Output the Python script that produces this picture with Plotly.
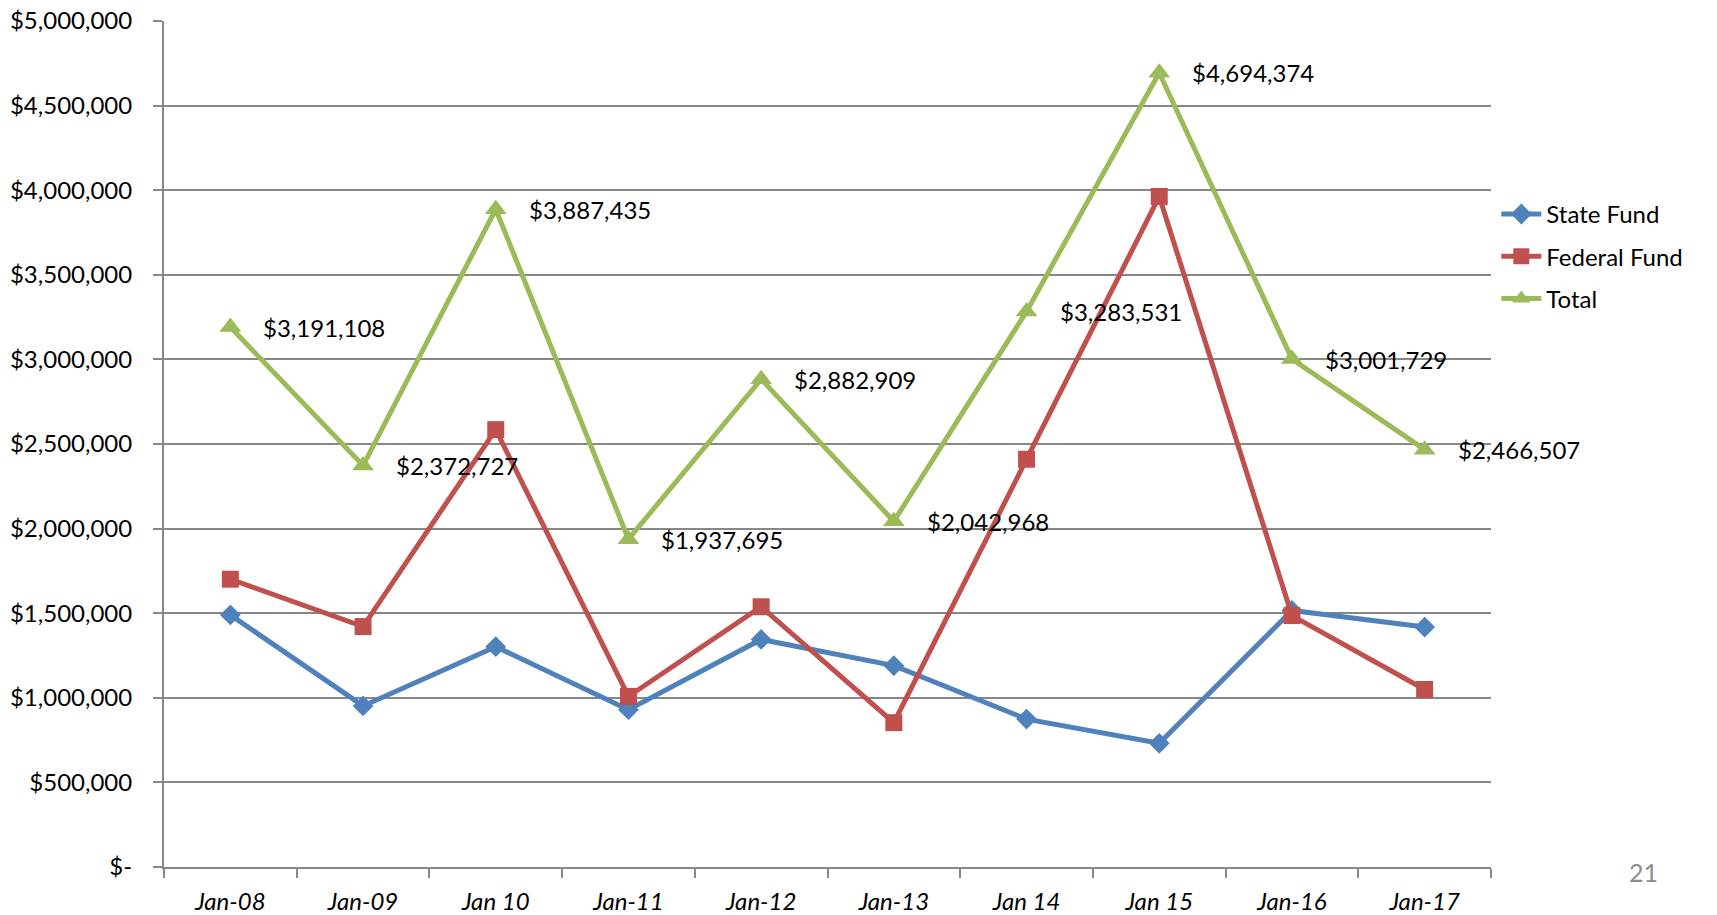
import plotly.graph_objects as go

categories = ["Jan-08", "Jan-09", "Jan 10", "Jan-11", "Jan-12", "Jan-13", "Jan 14", "Jan 15", "Jan-16", "Jan-17"]
state_fund = [1490000, 952000, 1302000, 930000, 1345000, 1190000, 874000, 731000, 1516000, 1418000]
federal_fund = [1701000, 1421000, 2585000, 1008000, 1538000, 853000, 2410000, 3963000, 1486000, 1049000]
total = [3191108, 2372727, 3887435, 1937695, 2882909, 2042968, 3283531, 4694374, 3001729, 2466507]
total_labels = ["$3,191,108", "$2,372,727", "$3,887,435", "$1,937,695", "$2,882,909",
                "$2,042,968", "$3,283,531", "$4,694,374", "$3,001,729", "$2,466,507"]
y_tickvals = [0, 500000, 1000000, 1500000, 2000000, 2500000, 3000000, 3500000, 4000000, 4500000, 5000000]
y_ticktext = ["$-", "$500,000", "$1,000,000", "$1,500,000", "$2,000,000", "$2,500,000",
              "$3,000,000", "$3,500,000", "$4,000,000", "$4,500,000", "$5,000,000"]

FONT = "Lato, Open Sans, sans-serif"
BLUE = "#4F81BD"
RED = "#C0504D"
GREEN = "#9BBB59"
GRID = "#878787"

fig = go.Figure()
fig.add_trace(go.Scatter(x=categories, y=state_fund, name="State Fund", mode="lines+markers",
                         line=dict(color=BLUE, width=5),
                         marker=dict(symbol="diamond", size=16, color=BLUE),
                         legendgroup="a"))
fig.add_trace(go.Scatter(x=categories, y=federal_fund, name="Federal Fund", mode="lines+markers",
                         line=dict(color=RED, width=5),
                         marker=dict(symbol="square", size=17, color=RED),
                         legendgroup="b"))
fig.add_trace(go.Scatter(x=categories, y=total, name="Total", mode="lines+markers",
                         line=dict(color=GREEN, width=5),
                         marker=dict(symbol="triangle-up", size=19, color=GREEN),
                         legendgroup="c"))

for c, v, t in zip(categories, total, total_labels):
    fig.add_annotation(x=c, y=v, text=t, showarrow=False, xanchor="left", yanchor="middle",
                       xshift=31, font=dict(family=FONT, size=24, color="#000000"))

# page number
fig.add_annotation(xref="paper", yref="paper",
                   x=(1643 - 164) / 1327, y=(867 - 872) / 845.5,
                   text="21", showarrow=False, xanchor="center", yanchor="middle",
                   font=dict(family=FONT, size=25, color="#8C8C8C"))

fig.update_layout(
    template="none",
    width=1717, height=915,
    margin=dict(l=164, r=226, t=21, b=48, autoexpand=False),
    paper_bgcolor="white", plot_bgcolor="white",
    font=dict(family=FONT, size=24, color="#000000"),
    showlegend=True,
    legend=dict(x=1.004, xanchor="left", y=0.798, yanchor="top",
                font=dict(family=FONT, size=24, color="#000000"),
                traceorder="grouped", tracegroupgap=8,
                bgcolor="rgba(0,0,0,0)", itemwidth=40),
    xaxis=dict(type="category", categoryorder="array", categoryarray=categories,
               range=[-0.5, 9.5], showgrid=False, zeroline=False,
               showline=True, linecolor=GRID, linewidth=2,
               ticks="outside", ticklen=9, tickcolor=GRID, tickwidth=2,
               tickson="boundaries", ticklabelstandoff=12,
               tickfont=dict(family=FONT, size=24, color="#000000", style="italic"),
               automargin=False),
    yaxis=dict(range=[0, 5000000], tickvals=y_tickvals, ticktext=y_ticktext,
               showgrid=True, gridcolor=GRID, gridwidth=1.5, zeroline=False,
               showline=True, linecolor=GRID, linewidth=2,
               ticks="outside", ticklen=9, tickcolor=GRID, tickwidth=2,
               ticklabelstandoff=16,
               tickfont=dict(family=FONT, size=24, color="#000000"),
               automargin=False),
)

fig.write_html("out.html", config={"displayModeBar": False},
               post_script="document.body.style.margin='0';document.body.style.overflow='hidden';")
